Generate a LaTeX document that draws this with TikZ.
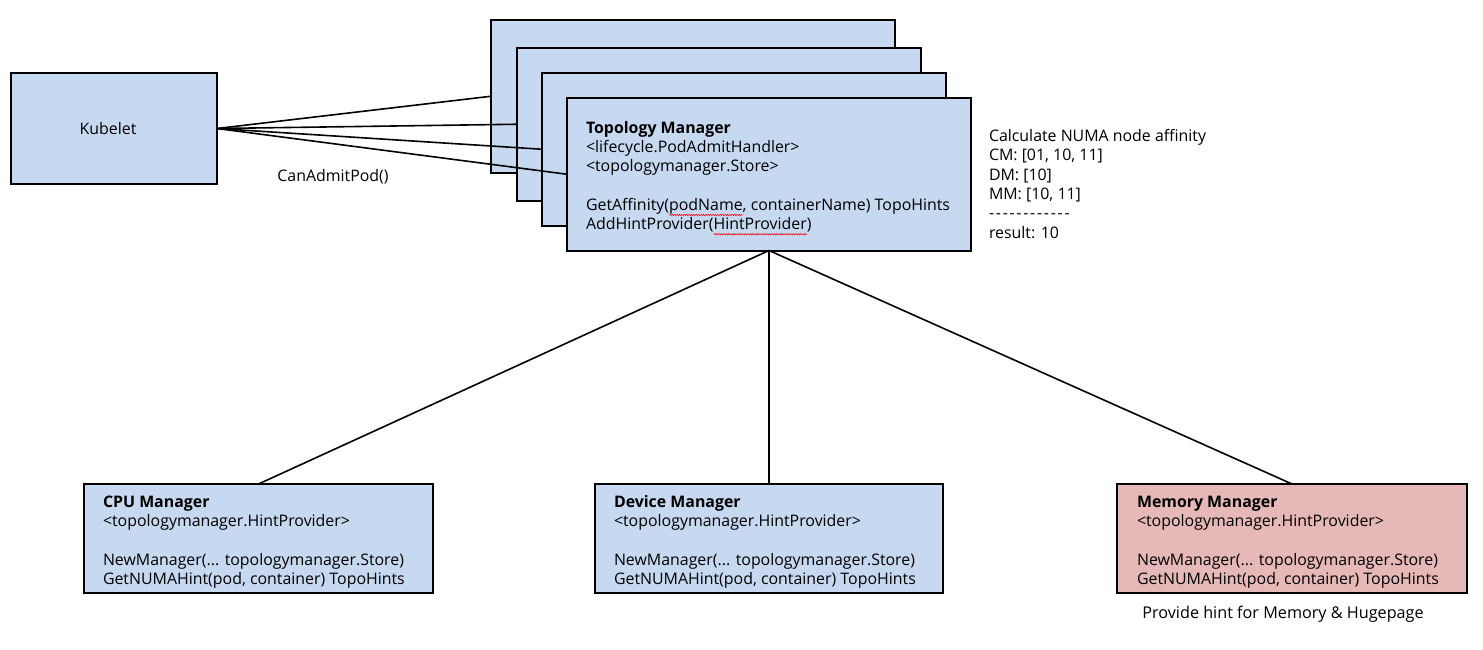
\documentclass[tikz,border=0pt]{standalone}
\usepackage{fontspec}
\setmainfont{Open Sans}
\usetikzlibrary{decorations.pathmorphing}
\definecolor{boxblue}{RGB}{198,217,241}
\definecolor{boxpink}{RGB}{230,185,184}
\newsavebox\squigbox
\newcommand\squig[1]{\sbox\squigbox{#1}\tikz[overlay,baseline=0pt]\draw[red,line width=0.5pt,decorate,decoration={snake,amplitude=0.7pt,segment length=2.4pt}] (0pt,-4.5pt) -- (\wd\squigbox,-4.5pt);\usebox\squigbox}
\newcommand\hy{{-}\kern1.75pt}
\begin{document}
\begin{tikzpicture}[x=1pt,y=-1pt,
  every node/.style={inner sep=0pt,outer sep=0pt},
  txt/.style={font=\fontsize{15.9}{19.3}\selectfont,align=left},
  box/.style={draw=black,line width=2pt,fill=boxblue,anchor=north west,minimum width=#1},
  box/.default=404,
  conn/.style={draw=black,line width=1.6pt}]
\useasboundingbox (0,0) rectangle (1483,650);
% Kubelet
\node[box=206,minimum height=111,txt] (kub) at (11,73) {\hspace*{-12pt}Kubelet};
% Topology manager stack
\node[box,minimum height=152.5] (tm1) at (491,20) {};
\node[box,minimum height=152.5] (tm2) at (517,48) {};
\node[box,minimum height=152.5] (tm3) at (542,73) {};
\node[box,minimum height=152.5] (tm4) at (567,98) {};
\node[txt,anchor=west] (tmtext) at ([xshift=19pt,yshift=-2.5pt]tm4.west) {\textbf{Topology Manager}\\
<lifecycle.PodAdmitHandler>\\
<topologymanager.Store>\\[19.3pt]
GetAffinity(\squig{podName}, containerName) TopoHints\\
AddHintProvider(\squig{HintProvider})};
% connectors kubelet
\foreach \t in {tm1,tm2,tm3,tm4} \draw[conn] (kub.east) -- (\t.west);
\node[txt] (can) at (333,177) {CanAdmitPod()};
% NUMA calc text
\node[txt,anchor=north west] (numa) at (989,129.5) {Calculate NUMA node affinity\\
CM: [01, 10, 11]\\
DM: [10]\\
MM: [10, 11]\\
\hy\hy\hy\hy\hy\hy\hy\hy\hy\hy\hy{-}\\
result: 10};
% bottom boxes
\node[box=349,minimum height=109] (cpu) at (84,484) {};
\node[box=348,minimum height=109] (dev) at (595,484) {};
\node[box=350,minimum height=109,fill=boxpink] (mem) at (1117,484) {};
\node[txt,anchor=west] (cputext) at ([xshift=19pt,yshift=-3.5pt]cpu.west) {\textbf{CPU Manager}\\
<topologymanager.HintProvider>\\[19.3pt]
NewManager(... topologymanager.Store)\\
GetNUMAHint(pod, container) TopoHints};
\node[txt,anchor=west] (devtext) at ([xshift=19pt,yshift=-3.5pt]dev.west) {\textbf{Device Manager}\\
<topologymanager.HintProvider>\\[19.3pt]
NewManager(... topologymanager.Store)\\
GetNUMAHint(pod, container) TopoHints};
\node[txt,anchor=west] (memtext) at ([xshift=20pt,yshift=-3.5pt]mem.west) {\textbf{Memory Manager}\\
<topologymanager.HintProvider>\\[19.3pt]
NewManager(... topologymanager.Store)\\
GetNUMAHint(pod, container) TopoHints};
\node[txt,font=\fontsize{16.2}{19.3}\selectfont] (hint) at (1283,614) {Provide hint for Memory \& Hugepage};
% connectors down
\draw[conn] (tm4.south) -- (cpu.north);
\draw[conn] (tm4.south) -- (dev.north);
\draw[conn] (tm4.south) -- (mem.north);
\end{tikzpicture}
\end{document}
